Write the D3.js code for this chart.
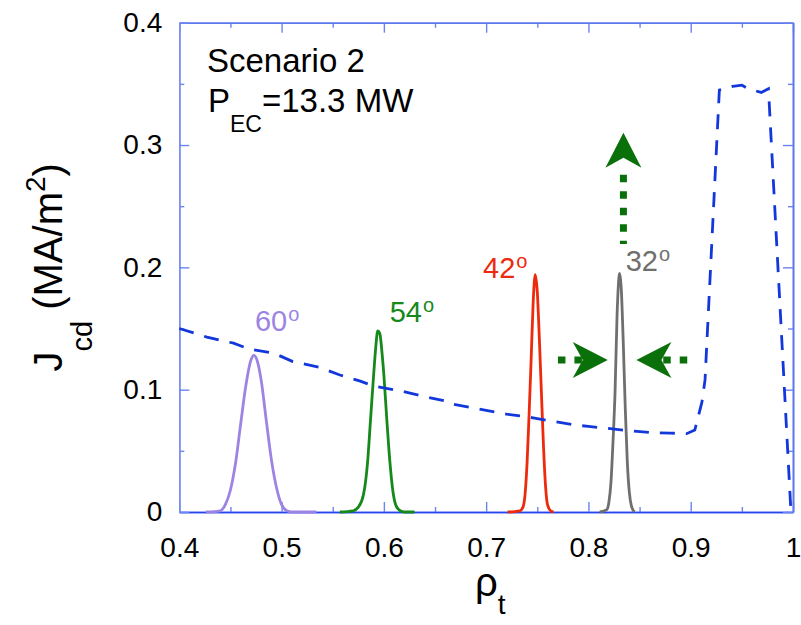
<!DOCTYPE html>
<html>
<head>
<meta charset="utf-8">
<script src="https://cdn.jsdelivr.net/npm/d3@7"></script>
<style>
  body { margin: 0; background: #fff; }
  text { font-family: "Liberation Sans", Arial, Helvetica, sans-serif; }
</style>
</head>
<body>
<div id="chart"></div>
<script>
// dashed total current profile
const profileRho = [0.400,0.427,0.453,0.469,0.492,0.511,0.538,0.557,0.577,0.590,0.616,0.642,0.664,0.668,0.700,0.720,0.746,0.759,0.788,0.800,0.834,0.860,0.880,0.896,0.904,0.911,0.914,0.928,0.941,0.950,0.956,0.969,0.976,0.998];
const profileJ   = [0.150,0.143,0.138,0.133,0.130,0.123,0.118,0.112,0.107,0.103,0.099,0.094,0.090,0.088,0.083,0.080,0.077,0.075,0.071,0.070,0.067,0.065,0.0645,0.064,0.067,0.090,0.108,0.345,0.348,0.349,0.346,0.343,0.346,0.000];

// EC deposition peaks
const rho60 = [0.426,0.440,0.445,0.450,0.455,0.460,0.465,0.470,0.473,0.476,0.480,0.485,0.490,0.495,0.500,0.505,0.510,0.534];
const j60   = [0.000,0.001,0.006,0.018,0.040,0.072,0.103,0.124,0.128,0.124,0.108,0.075,0.043,0.020,0.006,0.001,0.000,0.000];

const rho54 = [0.557,0.570,0.575,0.580,0.584,0.587,0.590,0.592,0.594,0.596,0.598,0.600,0.603,0.606,0.609,0.612,0.616,0.620,0.630];
const j54   = [0.000,0.001,0.004,0.014,0.040,0.076,0.112,0.134,0.148,0.146,0.132,0.112,0.074,0.040,0.016,0.005,0.001,0.000,0.000];

const rho42 = [0.721,0.733,0.736,0.738,0.740,0.742,0.744,0.746,0.748,0.750,0.752,0.754,0.756,0.758,0.760,0.763,0.766];
const j42   = [0.000,0.001,0.004,0.014,0.040,0.080,0.125,0.172,0.194,0.180,0.142,0.098,0.055,0.022,0.006,0.001,0.000];

const rho32 = [0.811,0.818,0.820,0.822,0.824,0.826,0.828,0.830,0.8306,0.832,0.834,0.836,0.838,0.840,0.842,0.845];
const j32   = [0.000,0.002,0.008,0.024,0.057,0.0975,0.161,0.193,0.195,0.184,0.140,0.085,0.041,0.016,0.005,0.000];

const peakNames  = ["60","54","42","32"];
const peakColors = ["#9d84e4","#15891a","#ee2a0c","#6f6f6f"];
const labelRho   = [0.474,0.6057,0.697,0.8364];
const labelJ     = [0.148,0.1556,0.191,0.197];

const xTicks = [0.4,0.5,0.6,0.7,0.8,0.9,1.0];
const xTickLabels = ["0.4","0.5","0.6","0.7","0.8","0.9","1"];
const xMinor = [0.45,0.55,0.65,0.75,0.85,0.95];
const yTicks = [0,0.1,0.2,0.3,0.4];
const yTickLabels = ["0","0.1","0.2","0.3","0.4"];
const yMinor = [0.05,0.15,0.25,0.35];

// arrows: dotted shaft from start to end, head tip
const arrowShaftStart = [[0.7702,0.1243],[0.8966,0.1243],[0.8342,0.2756]];
const arrowShaftEnd   = [[0.7940,0.1243],[0.8700,0.1243],[0.8342,0.2190]];
const arrowTip        = [[0.8189,0.1243],[0.8469,0.1243],[0.8342,0.3100]];

const W = 801, H = 625;
const margin = {top: 22.7, right: 8, bottom: 113, left: 179.3};

const svg = d3.select("#chart").append("svg")
  .attr("width", W).attr("height", H);

const x = d3.scaleLinear().domain([0.4, 1]).range([margin.left, W - margin.right]);
const y = d3.scaleLinear().domain([0, 0.4]).range([H - margin.bottom, margin.top]);

const axisCol = "#5d77ee";

// axes, ticks inward on all four sides
function styleAxis(g, col) {
  g.select(".domain").attr("stroke", col).attr("stroke-width", 1.6);
  g.selectAll(".tick line").attr("stroke", "#6c84f0").attr("stroke-width", 1.4);
  g.selectAll("text").attr("fill", "#000").style("font-size", "28px");
}

svg.append("g").attr("transform", `translate(0,${y(0)})`)
  .call(d3.axisBottom(x).tickValues(xMinor).tickSize(-5).tickSizeOuter(0).tickFormat(""))
  .call(g => styleAxis(g, "#2446ee"));
svg.append("g").attr("transform", `translate(0,${y(0)})`)
  .call(d3.axisBottom(x).tickValues(xTicks).tickSize(-10).tickSizeOuter(0)
        .tickFormat((d, i) => xTickLabels[i]).tickPadding(25))
  .call(g => styleAxis(g, "#2446ee"));

svg.append("g").attr("transform", `translate(0,${y(0.4)})`)
  .call(d3.axisTop(x).tickValues(xMinor).tickSize(-5).tickSizeOuter(0).tickFormat(""))
  .call(g => styleAxis(g, axisCol));
svg.append("g").attr("transform", `translate(0,${y(0.4)})`)
  .call(d3.axisTop(x).tickValues(xTicks).tickSize(-10).tickSizeOuter(0).tickFormat(""))
  .call(g => styleAxis(g, axisCol));

svg.append("g").attr("transform", `translate(${x(0.4)},0)`)
  .call(d3.axisLeft(y).tickValues(yMinor).tickSize(-5).tickSizeOuter(0).tickFormat(""))
  .call(g => styleAxis(g, "#7c90f0"));
svg.append("g").attr("transform", `translate(${x(0.4)},0)`)
  .call(d3.axisLeft(y).tickValues(yTicks).tickSize(-10).tickSizeOuter(0)
        .tickFormat((d, i) => yTickLabels[i]).tickPadding(17))
  .call(g => styleAxis(g, "#7c90f0"));

svg.append("g").attr("transform", `translate(${x(1)},0)`)
  .call(d3.axisRight(y).tickValues(yMinor).tickSize(-5).tickSizeOuter(0).tickFormat(""))
  .call(g => styleAxis(g, axisCol));
svg.append("g").attr("transform", `translate(${x(1)},0)`)
  .call(d3.axisRight(y).tickValues(yTicks).tickSize(-10).tickSizeOuter(0).tickFormat(""))
  .call(g => styleAxis(g, axisCol));

// curves
const line = d3.line().x(d => x(d[0])).y(d => y(d[1])).curve(d3.curveMonotoneX);
const peaks = [[rho60, j60], [rho54, j54], [rho42, j42], [rho32, j32]];

peaks.forEach((p, k) => {
  svg.append("path")
    .datum(d3.zip(p[0], p[1]))
    .attr("d", line)
    .attr("fill", "none")
    .attr("stroke", peakColors[k])
    .attr("stroke-width", 2.8)
    .attr("stroke-linejoin", "round");
  // angle label, degree sign drawn as a raised small "o" like the original
  const t = svg.append("text")
    .attr("x", x(labelRho[k])).attr("y", y(labelJ[k]))
    .attr("fill", peakColors[k])
    .style("font-size", "29px");
  t.append("tspan").text(peakNames[k]);
  t.append("tspan").attr("dx", 1).attr("dy", -10).style("font-size", "20px").text("o");
});

svg.append("path")
  .datum(d3.zip(profileRho, profileJ))
  .attr("d", d3.line().x(d => x(d[0])).y(d => y(d[1])))
  .attr("fill", "none")
  .attr("stroke", "#1238dc")
  .attr("stroke-width", 2.8)
  .attr("stroke-dasharray", "15,11");

// green arrows
const arrowCol = "#0a700a";
arrowTip.forEach((t, k) => {
  const s = arrowShaftStart[k], e = arrowShaftEnd[k];
  svg.append("line")
    .attr("x1", x(s[0])).attr("y1", y(s[1]))
    .attr("x2", x(e[0])).attr("y2", y(e[1]))
    .attr("stroke", arrowCol).attr("stroke-width", 7)
    .attr("stroke-dasharray", "7.5,9");
  const tx = x(t[0]), ty = y(t[1]);
  const mx = (x(s[0]) + x(e[0])) / 2, my = (y(s[1]) + y(e[1])) / 2;
  const len = Math.hypot(tx - mx, ty - my);
  const ux = (tx - mx) / len, uy = (ty - my) / len;
  const px = -uy, py = ux;
  const L = 35, hw = 18, notch = 25;
  const pts = [
    [tx, ty],
    [tx - ux * L + px * hw, ty - uy * L + py * hw],
    [tx - ux * notch, ty - uy * notch],
    [tx - ux * L - px * hw, ty - uy * L - py * hw]
  ];
  svg.append("path")
    .attr("d", "M" + pts.map(p => p.join(",")).join("L") + "Z")
    .attr("fill", arrowCol);
});

// annotation text
const note = svg.append("g");
note.append("text").attr("x", 207).attr("y", 71.7)
  .style("font-size", "33px").text("Scenario 2");
const pec = note.append("text").attr("x", 208).attr("y", 111.7).style("font-size", "33px");
pec.append("tspan").text("P");
pec.append("tspan").attr("dy", 20).style("font-size", "23px").text("EC");
pec.append("tspan").attr("dy", -20).text("=13.3 MW");

// axis titles
const xt = svg.append("text")
  .attr("x", (x(0.4) + x(1)) / 2 + 4).attr("y", 596)
  .attr("text-anchor", "middle").style("font-size", "40px");
xt.append("tspan").text("ρ");
xt.append("tspan").attr("dy", 18).style("font-size", "28px").text("t");

const yt = svg.append("text")
  .attr("transform", `translate(62,${(y(0) + y(0.4)) / 2}) rotate(-90)`)
  .attr("text-anchor", "middle").style("font-size", "40px");
yt.append("tspan").text("J");
yt.append("tspan").attr("dy", 30).style("font-size", "29px").text("cd");
yt.append("tspan").attr("dy", -30).text(" (MA/m");
yt.append("tspan").attr("dy", -17).style("font-size", "28px").text("2");
yt.append("tspan").attr("dy", 17).text(")");
</script>
</body>
</html>
